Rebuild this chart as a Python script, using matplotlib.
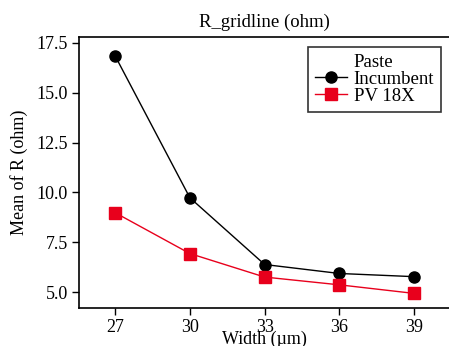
import numpy as np
import matplotlib
matplotlib.use("Agg")
import matplotlib.pyplot as plt

#%% DATA
widths = [27, 30, 33, 36, 39]
incumbent = [16.85, 9.73, 6.38, 5.93, 5.77]
pv18x = [8.98, 6.93, 5.75, 5.36, 4.93]
series_names = ["Incumbent", "PV 18X"]
legend_title = "Paste"

#%% PLOT
plt.rcParams['font.family'] = ['Liberation Serif', 'DejaVu Serif']
plt.rcParams['font.size'] = 13

fig = plt.figure(figsize=(4.49, 3.46), dpi=100)
ax = fig.add_axes([0.176, 0.110, 0.824, 0.783])

# empty entry so the legend title sits in the text column
ax.plot([], [], ' ', label=legend_title)
ax.plot(widths, incumbent, color='black', lw=1, marker='o', ms=8, label=series_names[0])
ax.plot(widths, pv18x, color='#e8001c', lw=1, marker='s', ms=8, label=series_names[1])

ax.set_xlim(25.55, 40.4)
ax.set_ylim(4.2, 17.8)
ax.set_xticks(widths)
ax.set_yticks([5.0, 7.5, 10.0, 12.5, 15.0, 17.5])
ax.set_yticklabels(['5.0', '7.5', '10.0', '12.5', '15.0', '17.5'])
ax.spines['right'].set_visible(False)
for s in ['left', 'bottom', 'top']:
    ax.spines[s].set_linewidth(1.2)
ax.tick_params(direction='out', length=5, width=1, labelsize=13, pad=3)

ax.set_title('R_gridline (ohm)', fontsize=13.5, pad=7)
ax.set_xlabel('Width (\u00b5m)', fontsize=13, labelpad=-4)
ax.set_ylabel('Mean of R (ohm)', fontsize=13, labelpad=6)

leg = ax.legend(loc='upper right', bbox_to_anchor=(0.978, 0.963),
                fontsize=13.5, frameon=True, fancybox=False,
                edgecolor='black', handlelength=1.7, handletextpad=0.37,
                borderpad=0.35, labelspacing=0.0, borderaxespad=0.0)
leg.get_frame().set_linewidth(1.2)

fig.savefig('out.png', dpi=100)
